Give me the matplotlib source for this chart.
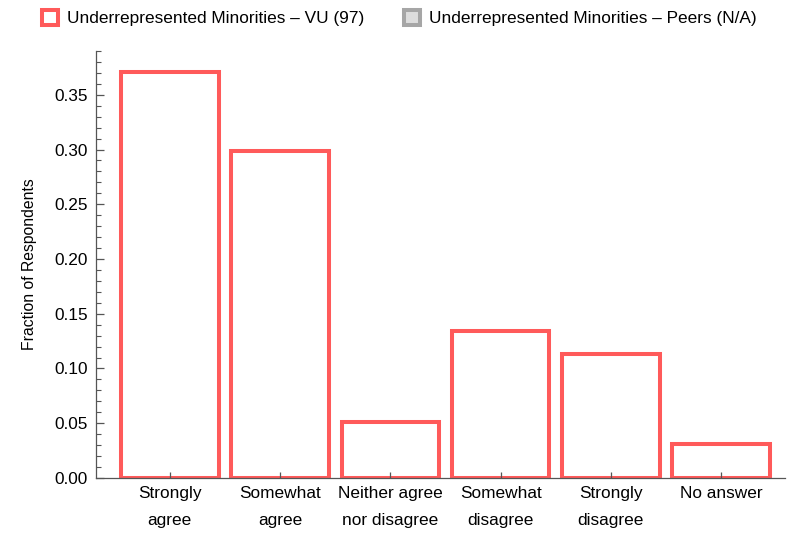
import matplotlib
matplotlib.use("Agg")
import matplotlib.pyplot as plt
from matplotlib.patches import Patch
from matplotlib.ticker import MultipleLocator

plt.rcParams['font.family'] = ['Liberation Sans', 'DejaVu Sans']

categories = ["Strongly\nagree", "Somewhat\nagree", "Neither agree\nnor disagree",
              "Somewhat\ndisagree", "Strongly\ndisagree", "No answer"]
vu_fraction = [0.371, 0.299, 0.0515, 0.134, 0.1134, 0.0309]
vu_label = "Underrepresented Minorities \u2013 VU (97)"
peers_label = "Underrepresented Minorities \u2013 Peers (N/A)"

bar_red = "#ff5a5a"
axis_col = "#555555"

fig = plt.figure(figsize=(7.98, 5.39), dpi=100)
ax = fig.add_axes([0.1203, 0.1132, 0.8634, 0.7922])

xs = range(len(categories))
ax.bar(xs, vu_fraction, width=0.885, facecolor="white", edgecolor=bar_red, linewidth=2.9)

ax.set_xlim(-0.67, 5.58)
ax.set_ylim(0, 0.39)
ax.yaxis.set_major_locator(MultipleLocator(0.05))
ax.yaxis.set_minor_locator(MultipleLocator(0.01))
ax.yaxis.set_major_formatter(matplotlib.ticker.FormatStrFormatter('%.2f'))
ax.set_xticks(list(xs))
ax.set_xticklabels(categories, linespacing=1.95)

for s in ["top", "right"]:
    ax.spines[s].set_visible(False)
for s in ["left", "bottom"]:
    ax.spines[s].set_color(axis_col)
    ax.spines[s].set_linewidth(0.9)

ax.tick_params(axis='y', which='major', direction='in', length=6, width=0.9,
               color=axis_col, labelsize=12.4, pad=6)
ax.tick_params(axis='y', which='minor', direction='in', length=3.5, width=0.8, color=axis_col)
ax.tick_params(axis='x', which='major', direction='in', length=4, width=0.9,
               color=axis_col, labelsize=12.4, pad=6)
ax.set_ylabel("Fraction of Respondents", fontsize=11.3, labelpad=12)

handles = [Patch(facecolor="white", edgecolor=bar_red, linewidth=2.9),
           Patch(facecolor="#dddddd", edgecolor="#a6a6a6", linewidth=2.9)]
fig.legend(handles, [vu_label, peers_label], loc="upper center", bbox_to_anchor=(0.5, 1.01),
           ncol=2, frameon=False, fontsize=12.4, handlelength=0.95, handleheight=0.95,
           handletextpad=0.5, columnspacing=2.3)

fig.savefig("out.png", dpi=100)
